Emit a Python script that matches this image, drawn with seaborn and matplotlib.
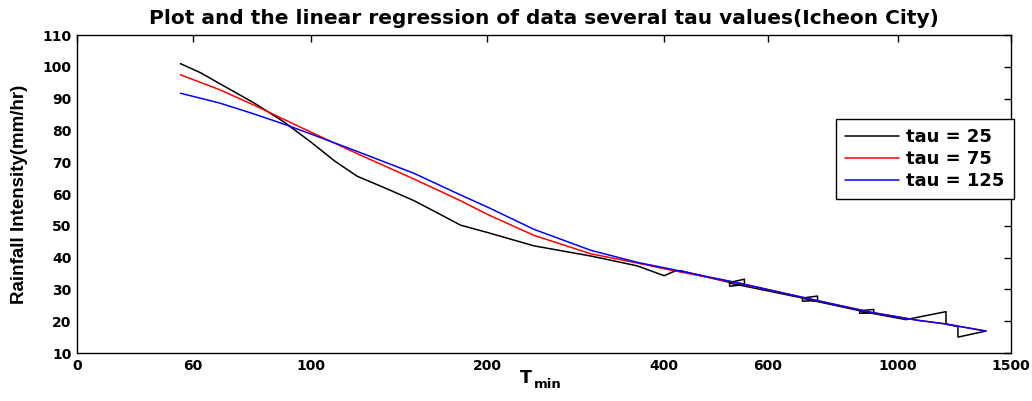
import numpy as np
import pandas as pd
import matplotlib
matplotlib.use("Agg")
import matplotlib.pyplot as plt
import seaborn as sns
from matplotlib.ticker import FixedLocator, FixedFormatter, NullLocator

# ---- data ----
tau25_T = [60, 65, 70, 80, 90, 100, 110, 120, 135, 150, 165, 180, 200, 240, 300, 360, 400, 415, 426,
           517, 548, 548, 517, 517, 688, 730, 730, 688, 688, 861, 910, 910, 861, 861,
           1032, 1208, 1208, 1266, 1266, 1413]
tau25_I = [101.0, 98.1, 94.7, 88.7, 82.7, 76.4, 70.3, 65.6, 61.6, 57.9, 53.9, 50.2, 47.9, 43.7, 40.5, 37.4, 34.3, 35.6, 35.9,
           32.2, 33.2, 31.5, 31.0, 32.0, 27.3, 27.9, 26.5, 26.3, 27.2, 23.3, 23.7, 22.6, 22.5, 23.2,
           20.5, 23.0, 19.1, 18.3, 15.0, 16.9]

tau75_T = [60, 70, 80, 90, 100, 120, 150, 180, 200, 240, 300, 360, 400, 480, 540, 720, 900, 1080, 1200, 1413]
tau75_I = [97.5, 92.8, 88.0, 83.5, 79.5, 72.7, 64.7, 57.9, 53.6, 47.0, 41.2, 38.3, 36.5, 33.6, 31.8, 26.7, 22.8, 20.3, 19.2, 16.9]

tau125_T = [60, 70, 80, 90, 100, 120, 150, 180, 200, 240, 300, 360, 400, 480, 540, 720, 900, 1080, 1200, 1413]
tau125_I = [91.7, 88.6, 85.2, 82.0, 78.9, 73.4, 66.5, 59.7, 55.9, 48.9, 42.3, 38.5, 36.8, 33.8, 31.9, 26.7, 22.8, 20.3, 19.2, 16.9]

series_labels = ["tau = 25", "tau = 75", "tau = 125"]
xtick_labels = ["0", "60", "100", "200", "400", "600", "1000", "1500"]
ytick_values = [10, 20, 30, 40, 50, 60, 70, 80, 90, 100, 110]

title_text = "Plot and the linear regression of data several tau values(Icheon City)"
ylabel_text = "Rainfall Intensity(mm/hr)"

# ---- style ----
sns.set_theme(style="white")
plt.rcParams['font.family'] = ['DejaVu Sans']
plt.rcParams['font.weight'] = 'bold'
for k in ['text.color', 'axes.labelcolor', 'xtick.color', 'ytick.color', 'axes.edgecolor']:
    plt.rcParams[k] = 'black'
plt.rcParams['axes.linewidth'] = 1.0

XLIM = (40, 1559)
xtick_pos = [40, 63.1, 100, 200, 400, 600, 1000, 1559]

fig = plt.figure(figsize=(10.32, 4.01), dpi=100)
ax = fig.add_axes([0.0746, 0.1197, 0.9051, 0.7930])

colors = ["black", "red", "blue"]
for (T, I), col, lab in zip([(tau25_T, tau25_I), (tau75_T, tau75_I), (tau125_T, tau125_I)], colors, series_labels):
    df = pd.DataFrame({"T": T, "I": I})
    sns.lineplot(data=df, x="T", y="I", sort=False, estimator=None, color=col,
                 linewidth=1.1, label=lab, ax=ax)

ax.set_xscale('log')
ax.set_xlim(*XLIM)
ax.set_ylim(10, 110)
ax.xaxis.set_major_locator(FixedLocator(xtick_pos))
ax.xaxis.set_major_formatter(FixedFormatter(xtick_labels))
ax.xaxis.set_minor_locator(NullLocator())
ax.set_yticks(ytick_values)
ax.set_yticklabels([str(v) for v in ytick_values])
ax.tick_params(direction='in', top=True, right=True, length=5, width=1,
               labelsize=10, pad=4, colors='black')
for lbl in ax.get_xticklabels() + ax.get_yticklabels():
    lbl.set_fontweight('bold')
for s in ax.spines.values():
    s.set_visible(True)
    s.set_color('black')

ax.set_xlabel("")
ax.set_ylabel(ylabel_text, fontsize=13.5, fontweight='bold',
              family=['Liberation Sans Narrow', 'Liberation Sans'], labelpad=10)
ax.set_title(title_text, fontsize=14.5, fontweight='bold', pad=8)

# x label T with subscript "min"
fig.text(0.5097, 0.0449, "T", fontsize=12.5, fontweight='bold', ha='center', va='baseline')
fig.text(0.5174, 0.0324, "min", fontsize=9.5, fontweight='bold', ha='left', va='baseline')

leg = ax.legend(loc='upper right', bbox_to_anchor=(1.003, 0.736), frameon=True,
                fancybox=False, edgecolor='black', framealpha=1,
                prop={'weight': 'bold', 'size': 13}, handlelength=3.0,
                handletextpad=0.4, borderpad=0.5, labelspacing=0.22, borderaxespad=0)
leg.get_frame().set_linewidth(1.0)

fig.savefig("out.png", dpi=100)
